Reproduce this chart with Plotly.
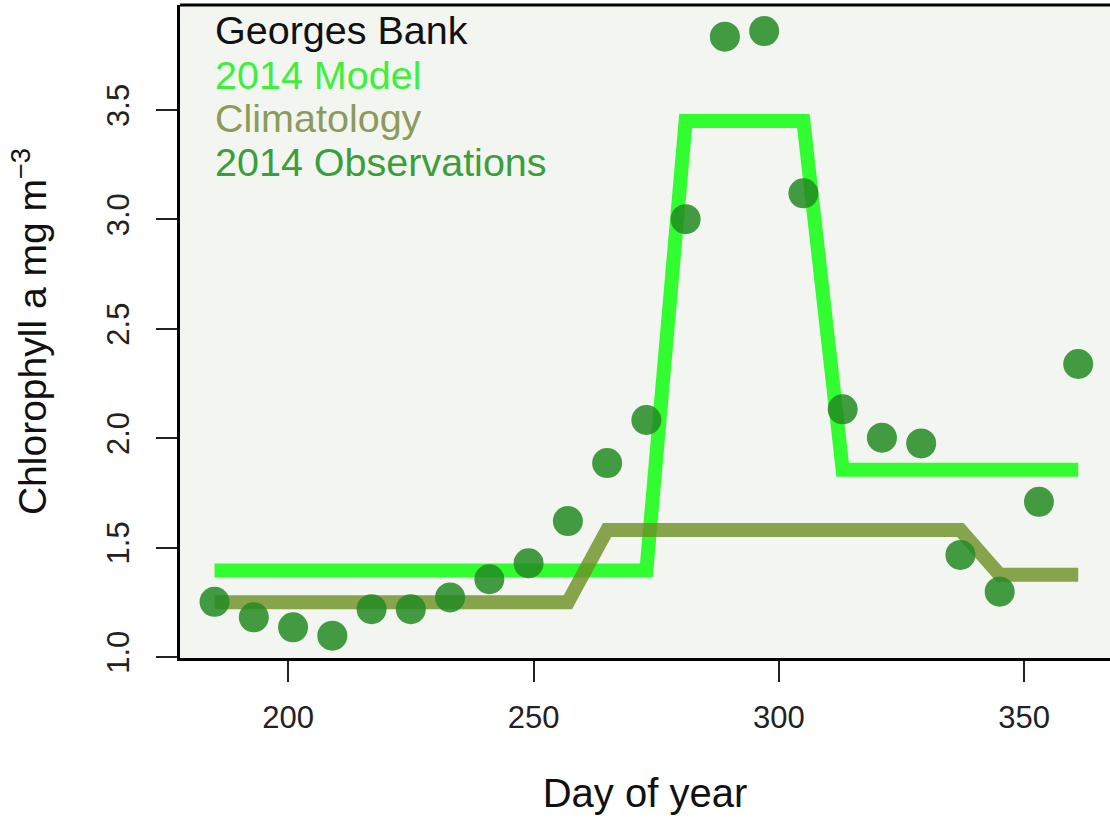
import plotly.graph_objects as go

# Day of year (8-day composites)
days = [185, 193, 201, 209, 217, 225, 233, 241, 249, 257, 265, 273,
        281, 289, 297, 305, 313, 321, 329, 337, 345, 353, 361]

# 2014 Model
model = [1.395, 1.395, 1.395, 1.395, 1.395, 1.395, 1.395, 1.395, 1.395, 1.395, 1.395, 1.395,
         3.45, 3.45, 3.45, 3.45, 1.855, 1.855, 1.855, 1.855, 1.855, 1.855, 1.855]

# Climatology
climatology = [1.25, 1.25, 1.25, 1.25, 1.25, 1.25, 1.25, 1.25, 1.25, 1.25,
               1.58, 1.58, 1.58, 1.58, 1.58, 1.58, 1.58, 1.58, 1.58, 1.58,
               1.375, 1.375, 1.375]

# 2014 Observations
observations = [1.252, 1.181, 1.135, 1.097, 1.218, 1.218, 1.272, 1.355, 1.428, 1.621,
                1.886, 2.083, 3.001, 3.835, 3.861, 3.119, 2.132, 2.002, 1.976, 1.466,
                1.298, 1.709, 2.339]

x_ticks = [200, 250, 300, 350]
y_ticks = [1.0, 1.5, 2.0, 2.5, 3.0, 3.5]
y_tick_text = ["1.0", "1.5", "2.0", "2.5", "3.0", "3.5"]

legend_title = "Georges Bank"
legend_labels = ["2014 Model", "Climatology", "2014 Observations"]

MODEL_COL = "rgba(0,255,0,0.8)"
CLIM_COL = "rgba(107,142,35,0.8)"
OBS_COL = "rgba(34,139,34,0.85)"
FONT = "Liberation Sans, Arial, sans-serif"

fig = go.Figure()
fig.add_trace(go.Scatter(x=days, y=model, mode="lines", name=legend_labels[0],
                         line=dict(color=MODEL_COL, width=14)))
fig.add_trace(go.Scatter(x=days, y=climatology, mode="lines", name=legend_labels[1],
                         line=dict(color=CLIM_COL, width=14)))
fig.add_trace(go.Scatter(x=days, y=observations, mode="markers", name=legend_labels[2],
                         marker=dict(color=OBS_COL, size=30, line=dict(width=0))))

# Text legend (top-left, no box)
legend_colors = ["#111111", "#3cf03c", "#8c9a5c", "#3a9e3a"]
legend_texts = [legend_title] + legend_labels
legend_y = [0.962, 0.893, 0.827, 0.760]
for t, c, yy in zip(legend_texts, legend_colors, legend_y):
    fig.add_annotation(text=t, x=0.035, y=yy, xref="paper", yref="paper",
                       xanchor="left", yanchor="middle", showarrow=False,
                       font=dict(family=FONT, size=39.5, color=c))

# top border of the plot box
fig.add_shape(type="line", xref="paper", yref="paper", x0=0, x1=1, y0=1, y1=1,
              line=dict(color="black", width=3))

fig.update_layout(
    width=1110, height=823,
    margin=dict(l=180, r=0, t=5, b=165),
    paper_bgcolor="white",
    plot_bgcolor="rgb(243,245,240)",
    showlegend=False,
    font=dict(family=FONT, color="#222222"),
)
fig.update_xaxes(
    range=[177.96, 367.48], tickvals=x_ticks, showgrid=False, zeroline=False,
    showline=True, linecolor="black", linewidth=3, automargin=False,
    ticks="outside", ticklen=21, tickwidth=2, tickcolor="#222222",
    ticklabelstandoff=9,
    tickfont=dict(size=31, family=FONT, color="#222222"),
    title=dict(text="Day of year", font=dict(size=40, family=FONT, color="#111111"), standoff=45),
)
fig.update_yaxes(
    range=[0.995, 3.98], tickvals=y_ticks, ticktext=y_tick_text, tickangle=-90,
    showgrid=False, zeroline=False,
    showline=True, linecolor="black", linewidth=3, automargin=False,
    ticks="outside", ticklen=21, tickwidth=2, tickcolor="#222222",
    ticklabelstandoff=15,
    tickfont=dict(size=31, family=FONT, color="#222222"),
    title=dict(text="Chlorophyll a mg m<sup>\u22123</sup>", font=dict(size=39, family=FONT, color="#111111"), standoff=42),
)

fig.write_html("out.html", config={"displayModeBar": False},
               post_script="document.body.style.margin='0';")
